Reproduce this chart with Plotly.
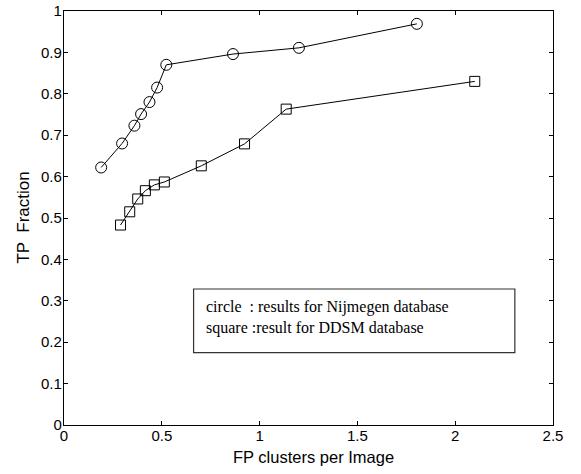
import plotly.graph_objects as go

# Data
circle_x = [0.19, 0.297, 0.36, 0.394, 0.437, 0.476, 0.523, 0.864, 1.201, 1.804]
circle_y = [0.622, 0.680, 0.723, 0.751, 0.780, 0.815, 0.870, 0.896, 0.911, 0.969]
square_x = [0.289, 0.336, 0.377, 0.416, 0.462, 0.513, 0.702, 0.923, 1.136, 2.10]
square_y = [0.483, 0.515, 0.546, 0.566, 0.580, 0.587, 0.626, 0.679, 0.763, 0.830]

x_ticks = [0, 0.5, 1, 1.5, 2, 2.5]
x_tick_text = ["0", "0.5", "1", "1.5", "2", "2.5"]
y_ticks = [0, 0.1, 0.2, 0.3, 0.4, 0.5, 0.6, 0.7, 0.8, 0.9, 1.0]
y_tick_text = ["0", "0.1", "0.2", "0.3", "0.4", "0.5", "0.6", "0.7", "0.8", "0.9", "1"]

x_title = "FP clusters per Image"
y_title = "TP  Fraction"
legend_lines = ["circle  : results for Nijmegen database",
                "square :result for DDSM database"]

SANS = "Liberation Sans, Arial"
SERIF = "Liberation Serif, Times New Roman"

fig = go.Figure()
fig.add_trace(go.Scatter(
    x=circle_x, y=circle_y, mode="lines+markers",
    line=dict(color="black", width=1),
    marker=dict(symbol="circle-open", size=11, color="black", line=dict(width=1)),
    showlegend=False))
fig.add_trace(go.Scatter(
    x=square_x, y=square_y, mode="lines+markers",
    line=dict(color="black", width=1),
    marker=dict(symbol="square-open", size=10, color="black", line=dict(width=1)),
    showlegend=False))

axis_common = dict(
    showline=True, linecolor="black", linewidth=1.3, mirror="ticks",
    ticks="inside", ticklen=4, tickcolor="black", tickwidth=1,
    showgrid=False, zeroline=False, automargin=False, ticklabeloverflow="allow",
    tickfont=dict(family=SANS, size=15, color="black"),
)

fig.update_xaxes(range=[0, 2.5], tickvals=x_ticks, ticktext=x_tick_text,
                 ticklabelstandoff=-3, **axis_common)
fig.update_yaxes(range=[0, 1], tickvals=y_ticks, ticktext=y_tick_text,
                 ticklabelstandoff=-2, **axis_common)

# axis titles
fig.add_annotation(xref="paper", yref="paper", x=0.51, y=-0.0785, text=x_title,
                   showarrow=False, xanchor="center", yanchor="middle",
                   font=dict(family=SANS, size=16.5, color="black"))
fig.add_annotation(xref="paper", yref="paper", x=-0.0848, y=0.5, text=y_title,
                   textangle=-90, showarrow=False, xanchor="center", yanchor="middle",
                   font=dict(family=SANS, size=17, color="black"))

# legend box
fig.add_shape(type="rect", xref="paper", yref="paper",
              x0=0.265, x1=0.922, y0=0.1746, y1=0.3285,
              line=dict(color="#333333", width=1.2), fillcolor="white", layer="above")
for txt, yy in zip(legend_lines, [0.2857, 0.2336]):
    fig.add_annotation(xref="paper", yref="paper", x=0.287, y=yy,
                       text=txt, showarrow=False, xanchor="left", yanchor="middle",
                       font=dict(family=SERIF, size=16, color="black"))

fig.update_layout(
    width=581, height=474,
    margin=dict(l=63.5, r=28, t=11, b=49, autoexpand=False),
    paper_bgcolor="white", plot_bgcolor="white",
)

# remove the browser's default 8px body margin so the figure fills the window
fig.write_html("out.html", config={"displayModeBar": False},
               post_script="document.body.style.margin='0px';")
